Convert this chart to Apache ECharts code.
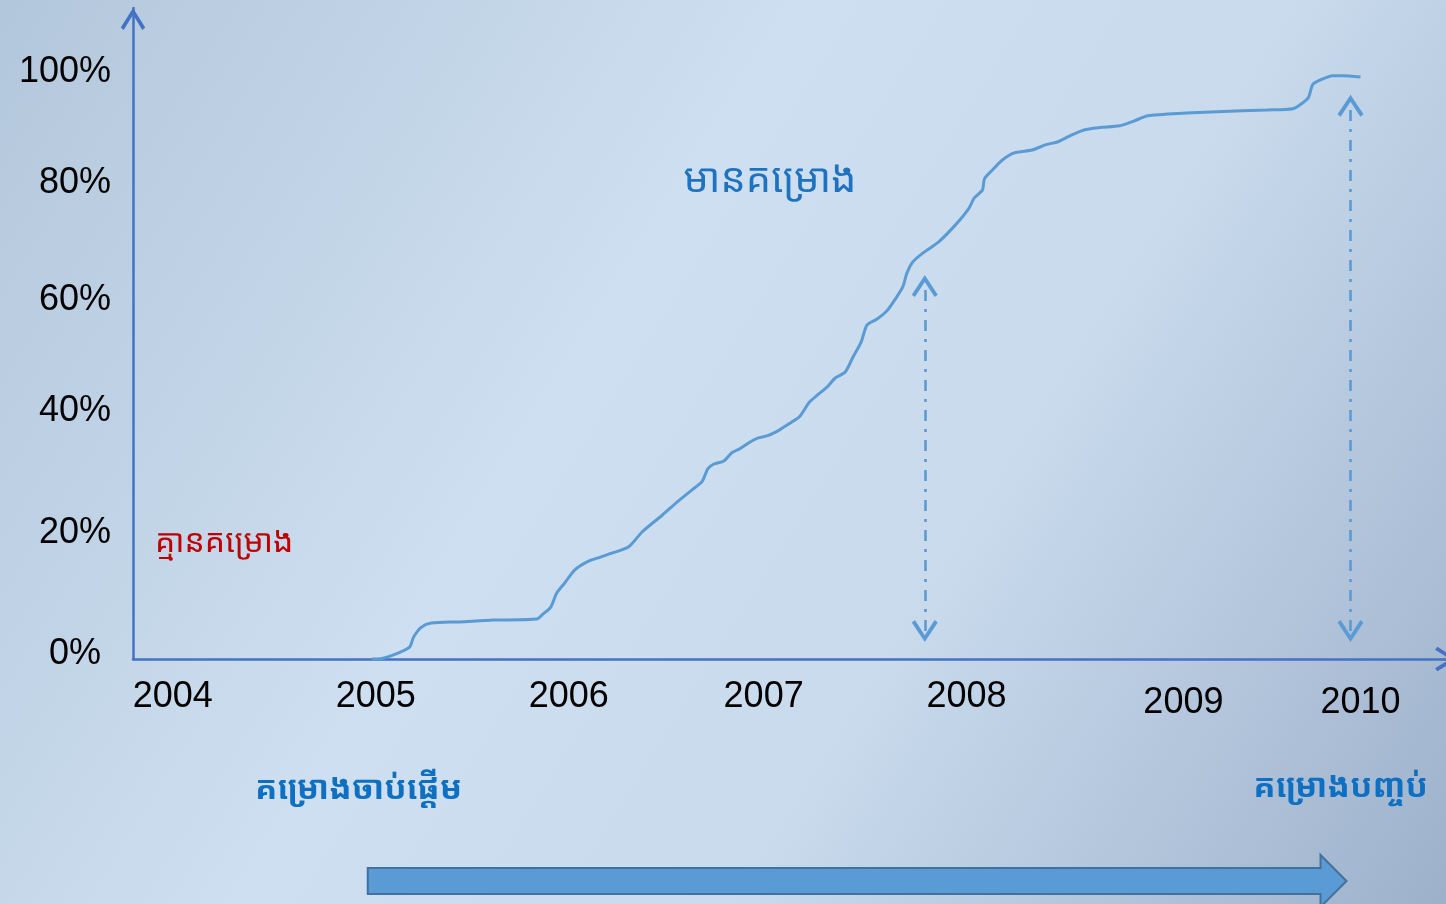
<!DOCTYPE html>
<html>
<head>
<meta charset="utf-8">
<script src="https://cdn.jsdelivr.net/npm/echarts@6/dist/echarts.min.js"></script>
<style>
html,body{margin:0;padding:0;overflow:hidden;}
#c{width:1446px;height:904px;}
</style>
</head>
<body>
<div id="c"></div>
<script>
// ---- data ----
const years = [2005.00, 2005.03, 2005.11, 2005.19, 2005.21, 2005.25, 2005.30, 2005.44, 2005.61, 2005.83, 2005.86, 2005.90, 2005.93, 2005.97,
  2006.02, 2006.09, 2006.15, 2006.21, 2006.29, 2006.36, 2006.46, 2006.53, 2006.61, 2006.66, 2006.69, 2006.72, 2006.77, 2006.81, 2006.85,
  2006.90, 2006.94, 2006.99, 2007.05, 2007.11, 2007.15, 2007.20, 2007.24, 2007.29, 2007.33, 2007.38, 2007.42, 2007.46, 2007.49, 2007.54,
  2007.59, 2007.63, 2007.67, 2007.69, 2007.72, 2007.77, 2007.85, 2007.94, 2008.00, 2008.03, 2008.07, 2008.08, 2008.12, 2008.17, 2008.23,
  2008.32, 2008.39, 2008.45, 2008.51, 2008.58, 2008.66, 2008.76, 2008.83, 2008.90, 2009.00, 2009.25, 2009.50, 2009.63, 2009.68, 2009.71,
  2009.73, 2009.77, 2009.83, 2009.88, 2009.97];
const shares = [0, 0, 0.7, 2.0, 3.7, 5.4, 6.1, 6.3, 6.6, 6.8, 7.6, 8.8, 11.2, 12.9,
  15.1, 16.6, 17.3, 18.0, 19.0, 21.6, 24.4, 26.5, 28.7, 30.1, 32.3, 33.1, 33.6, 35.0, 35.7,
  36.8, 37.5, 37.9, 38.9, 40.2, 41.1, 43.6, 44.8, 46.2, 47.7, 48.7, 51.3, 53.8, 56.7, 57.7,
  59.1, 61.0, 63.2, 65.5, 67.4, 68.9, 70.8, 73.9, 76.4, 78.3, 79.6, 81.5, 83.0, 84.7, 85.9,
  86.4, 87.3, 87.8, 88.8, 89.8, 90.2, 90.5, 91.3, 92.2, 92.5, 92.9, 93.2, 93.4, 94.4, 95.4,
  97.5, 98.3, 99.0, 99.0, 98.8];

const xTickLabels = ['2004', '2005', '2006', '2007', '2008', '2009', '2010'];
const xTickPos = [2004.00, 2005.02, 2005.99, 2006.97, 2007.99, 2009.08, 2009.97];
const yTickLabels = ['0%', '20%', '40%', '60%', '80%', '100%'];
const yTickPos = [0.8, 21.4, 42.0, 61.0, 80.8, 99.6];

const markerYears = [2007.78, 2009.92];
const markerTop = [63.3, 93.9];
const markerBottom = [4.75, 4.75];

const arrowYears = [2004.98, 2009.90];

const texts = {
  withPlan: 'មានគម្រោង',
  noPlan: 'គ្មានគម្រោង',
  start: 'គម្រោងចាប់ផ្តើម',
  end: 'គម្រោងបញ្ចប់'
};

// ---- chart ----
const chevron = 'path://M10,0 L20,16 L17.6,18 L10,5.6 L2.4,18 L0,16 Z';
const khmerFont = '"Noto Sans Khmer","Khmer OS","Khmer OS System","Leelawadee UI","DaunPenh",sans-serif';
const numFont = '"Liberation Sans", Arial, sans-serif';

function nearestLabel(pos, labels, v) {
  let best = 0;
  for (let i = 1; i < pos.length; i++) {
    if (Math.abs(pos[i] - v) < Math.abs(pos[best] - v)) best = i;
  }
  return labels[best];
}

const chart = echarts.init(document.getElementById('c'), null, {renderer: 'canvas'});

const option = {
  backgroundColor: {
    type: 'linear', x: 0, y: 0, x2: 1, y2: 1,
    colorStops: [
      {offset: 0, color: '#b3c7dc'},
      {offset: 0.4, color: '#cddff0'},
      {offset: 0.65, color: '#c8daec'},
      {offset: 1, color: '#9db1cb'}
    ]
  },
  animation: false,
  grid: {left: 133, right: 0, top: 8, bottom: 245, containLabel: false},
  xAxis: {
    type: 'value', min: 2003.8, max: 2010.4,
    axisLine: {
      show: true, onZero: false,
      lineStyle: {color: '#4472c4', width: 2.5},
      symbol: ['none', chevron], symbolSize: [26, 22], symbolOffset: [0, 0]
    },
    axisTick: {show: false},
    splitLine: {show: false},
    axisLabel: {
      customValues: xTickPos,
      margin: 20,
      color: '#000',
      fontSize: 36,
      fontFamily: numFont,
      formatter: function (v) {
        const t = nearestLabel(xTickPos, xTickLabels, v);
        return (t === '2009' || t === '2010') ? '{low|' + t + '}' : t;
      },
      rich: {low: {fontSize: 36, fontFamily: numFont, color: '#000', padding: [6, 0, 0, 0]}}
    }
  },
  yAxis: {
    type: 'value', min: 0, max: 110.5,
    axisLine: {
      show: true,
      lineStyle: {color: '#4472c4', width: 2.5},
      symbol: ['none', chevron], symbolSize: [26, 22], symbolOffset: [0, -11]
    },
    axisTick: {show: false},
    splitLine: {show: false},
    axisLabel: {
      customValues: yTickPos,
      margin: 22,
      color: '#000',
      fontSize: 36,
      fontFamily: numFont,
      formatter: function (v) {
        const t = nearestLabel(yTickPos, yTickLabels, v);
        return t === '0%' ? '{zero|' + t + '}' : t;
      },
      rich: {zero: {fontSize: 36, fontFamily: numFont, color: '#000', padding: [0, 10, 0, 0]}}
    }
  },
  series: [{
    type: 'line',
    data: years.map((y, i) => [y, shares[i]]),
    showSymbol: false,
    smooth: 0.25,
    lineStyle: {color: '#5b9bd5', width: 3},
    z: 1,
    markLine: {
      silent: true,
      symbol: [chevron, chevron],
      symbolSize: [26, 22],
      label: {show: false},
      lineStyle: {color: '#5b9bd5', width: 2.6, type: [11, 8, 3, 8]},
      data: markerYears.map((x, i) => [
        {coord: [x, markerBottom[i]]},
        {coord: [x, markerTop[i]]}
      ])
    }
  }]
};
chart.setOption(option);

const ax0 = chart.convertToPixel({xAxisIndex: 0}, arrowYears[0]);
const ax1 = chart.convertToPixel({xAxisIndex: 0}, arrowYears[1]);
const ay = 881;
const headLen = 26;

chart.setOption({
  graphic: [
    {
      type: 'polygon',
      shape: {points: [
        [ax0, ay - 13], [ax1 - headLen, ay - 13], [ax1 - headLen, ay - 26],
        [ax1, ay], [ax1 - headLen, ay + 26], [ax1 - headLen, ay + 13], [ax0, ay + 13]
      ]},
      style: {fill: '#5b9bd5', stroke: '#41719c', lineWidth: 2}
    },
    {
      type: 'text', x: 770, y: 181,
      style: {text: texts.withPlan, fill: '#1f72c0', font: '40px ' + khmerFont, align: 'center', verticalAlign: 'middle'}
    },
    {
      type: 'text', x: 155, y: 543,
      style: {text: texts.noPlan, fill: '#c00000', font: '32px ' + khmerFont, align: 'left', verticalAlign: 'middle'}
    },
    {
      type: 'text', x: 255, y: 790,
      style: {text: texts.start, fill: '#0f6fc0', font: 'bold 33px ' + khmerFont, align: 'left', verticalAlign: 'middle'}
    },
    {
      type: 'text', x: 1428, y: 788,
      style: {text: texts.end, fill: '#0f6fc0', font: 'bold 33px ' + khmerFont, align: 'right', verticalAlign: 'middle'}
    }
  ]
});
</script>
</body>
</html>
